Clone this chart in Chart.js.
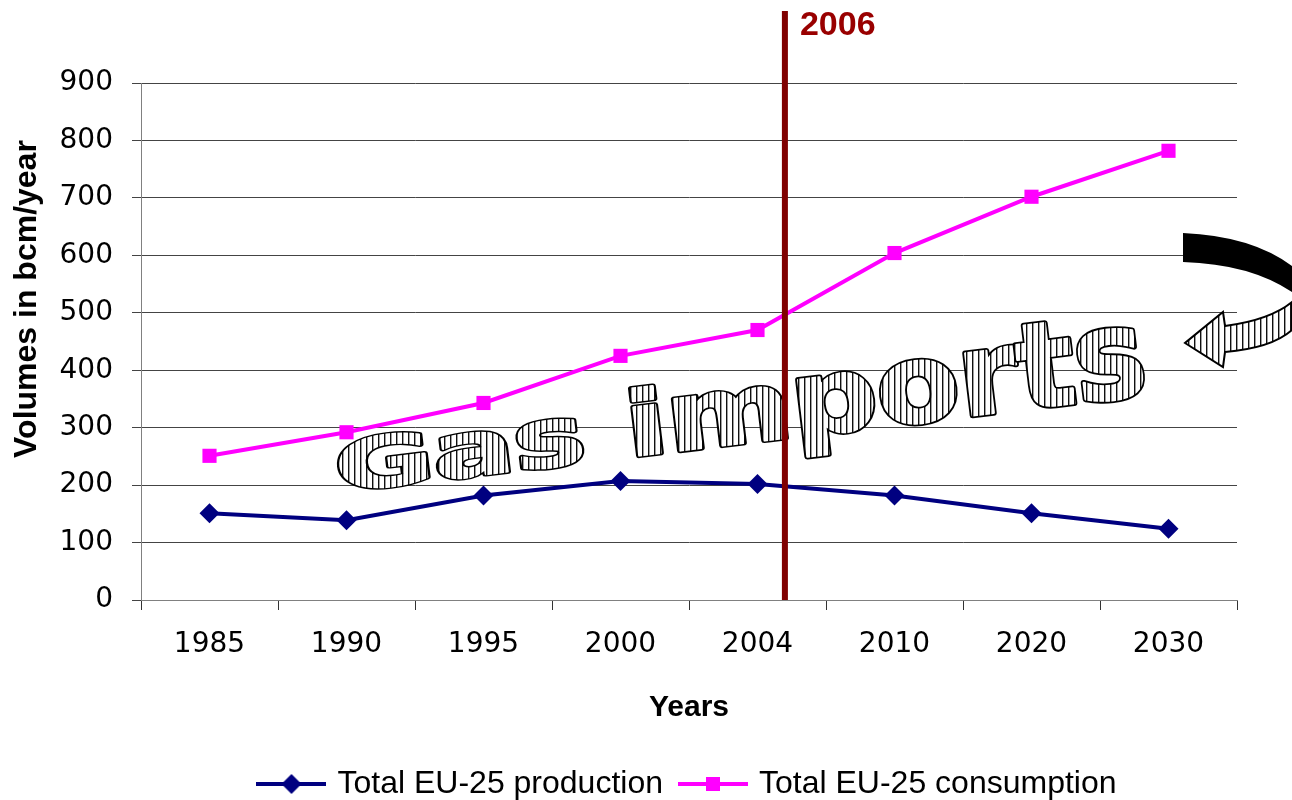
<!DOCTYPE html>
<html>
<head>
<meta charset="utf-8">
<script src="https://cdn.jsdelivr.net/npm/chart.js@4.4.1/dist/chart.umd.min.js"></script>
<style>
  html, body { margin: 0; padding: 0; background: #fff; }
</style>
</head>
<body>
<canvas id="gasChart" width="1292" height="800"></canvas>
<script>
const years = ['1985', '1990', '1995', '2000', '2004', '2010', '2020', '2030'];
const production = [151, 139, 182, 207, 202, 182, 151, 124];
const consumption = [251, 292, 343, 425, 470, 604, 702, 782];
const yMin = 0, yMax = 900, yStep = 100;

// 2006 marker sits a little after the 2004 category
const markerPos = 4.2;
const markerLabel = '2006';
const overlayText = 'Gas imports';

function stripePattern(ctx) {
    let c = document.createElement('canvas');
    c.width = 6; c.height = 6;
    let p = c.getContext('2d');
    p.fillStyle = '#fff';
    p.fillRect(0, 0, 6, 6);
    p.fillStyle = '#111';
    p.fillRect(0, 0, 1.4, 6);
    return ctx.createPattern(c, 'repeat');
}

function legendSample(color, shape) {
    let c = document.createElement('canvas');
    c.width = 70; c.height = 22;
    let g = c.getContext('2d');
    g.strokeStyle = color;
    g.lineWidth = 4;
    g.beginPath(); g.moveTo(0, 11); g.lineTo(70, 11); g.stroke();
    g.fillStyle = color;
    g.beginPath();
    if (shape === 'diamond') {
        g.moveTo(35, 1); g.lineTo(45, 11); g.lineTo(35, 21); g.lineTo(25, 11);
    } else {
        g.rect(28, 4, 14, 14);
    }
    g.fill();
    return c;
}
const samples = [legendSample('#000080', 'diamond'), legendSample('#ff00ff', 'square')];

function drawWordArt(ctx) {
    // slanted, growing "Gas imports" lettering
    const x0 = 338, y0 = 492, x1 = 1150, y1 = 394;
    const angle = Math.atan2(y1 - y0, x1 - x0);
    const len = Math.hypot(x1 - x0, y1 - y0);
    ctx.save();
    ctx.font = 'bold 80px "DejaVu Sans"';
    ctx.textBaseline = 'alphabetic';
    ctx.textAlign = 'left';
    ctx.lineJoin = 'round';
    let chars = overlayText.split('');
    let widths = chars.map(ch => ctx.measureText(ch).width);
    let total = widths.reduce((a, b) => a + b, 0);
    let sx = len / total;
    let pat = stripePattern(ctx);
    let d = 0;
    chars.forEach((ch, i) => {
        let t = (d + widths[i] / 2) / total;
        let sy = 0.82 + 0.75 * t;
        let px = x0 + Math.cos(angle) * d * sx;
        let py = y0 + Math.sin(angle) * d * sx;
        d += widths[i];
        if (ch === ' ') return;
        ctx.save();
        ctx.translate(px, py);
        ctx.rotate(angle);
        ctx.scale(sx, sy);
        let k = Math.sqrt(sx * sy);
        // heavier look: black outer stroke, then striped body on top
        ctx.strokeStyle = '#000';
        ctx.lineWidth = 6 / k;
        ctx.strokeText(ch, 0, 0);
        pat.setTransform(ctx.getTransform().inverse());
        ctx.fillStyle = pat;
        ctx.strokeStyle = pat;
        ctx.lineWidth = 2.4 / k;
        ctx.fillText(ch, 0, 0);
        ctx.strokeText(ch, 0, 0);
        ctx.restore();
    });
    ctx.restore();
}

function drawCurvedArrow(ctx) {
    ctx.save();
    ctx.beginPath();
    ctx.moveTo(1183, 233);
    ctx.quadraticCurveTo(1252, 236, 1292, 266);
    ctx.lineTo(1292, 292);
    ctx.quadraticCurveTo(1250, 264, 1183, 262);
    ctx.closePath();
    ctx.fillStyle = '#000';
    ctx.fill();

    let pat = stripePattern(ctx);
    ctx.beginPath();
    ctx.moveTo(1292, 302);
    ctx.quadraticCurveTo(1270, 320, 1225, 326);
    ctx.lineTo(1223, 312);
    ctx.lineTo(1185, 343);
    ctx.lineTo(1223, 367);
    ctx.lineTo(1225, 352);
    ctx.quadraticCurveTo(1272, 348, 1292, 330);
    ctx.closePath();
    ctx.fillStyle = pat;
    ctx.fill();
    ctx.lineWidth = 2;
    ctx.strokeStyle = '#000';
    ctx.lineJoin = 'miter';
    ctx.stroke();
    ctx.restore();
}

const decorations = {
    id: 'decorations',
    afterDatasetsDraw(chart) {
        let ctx = chart.ctx;
        let area = chart.chartArea;
        drawWordArt(ctx);
        drawCurvedArrow(ctx);

        // 2006 vertical line
        let x = chart.scales.x.getPixelForValue(markerPos);
        ctx.save();
        ctx.fillStyle = '#800000';
        ctx.fillRect(x - 3, area.top - 72, 6, area.bottom - area.top + 72);
        ctx.font = 'bold 34px "Liberation Sans"';
        ctx.fillStyle = '#990000';
        ctx.textBaseline = 'alphabetic';
        ctx.textAlign = 'left';
        ctx.fillText(markerLabel, x + 15, 35);
        ctx.restore();
    },
    afterDraw(chart) {
        let ctx = chart.ctx;
        ctx.save();
        ctx.translate(27, 299);
        ctx.rotate(-Math.PI / 2);
        ctx.font = 'bold 32px "Liberation Sans"';
        ctx.fillStyle = '#000';
        ctx.textAlign = 'center';
        ctx.textBaseline = 'middle';
        ctx.fillText('Volumes in bcm/year', 0, 0);
        ctx.restore();
    }
};

let ctx = document.getElementById('gasChart').getContext('2d');
let gasChart = new Chart(ctx, {
    type: 'line',
    data: {
        labels: years,
        datasets: [{
            label: 'Total EU-25 production',
            data: production,
            borderColor: '#000080',
            backgroundColor: '#000080',
            borderWidth: 4,
            pointStyle: 'rectRot',
            pointRadius: 10,
            pointBorderWidth: 0,
            tension: 0
        }, {
            label: 'Total EU-25 consumption',
            data: consumption,
            borderColor: '#ff00ff',
            backgroundColor: '#ff00ff',
            borderWidth: 4,
            pointStyle: 'rect',
            pointRadius: 10,
            pointBorderWidth: 0,
            tension: 0
        }]
    },
    options: {
        responsive: false,
        animation: false,
        layout: { padding: { top: 83, left: 0, right: 55, bottom: -10 } },
        plugins: {
            tooltip: { enabled: false },
            legend: {
                position: 'bottom',
                fullSize: false,
                labels: {
                    usePointStyle: true,
                    pointStyleWidth: 60,
                    padding: 20,
                    color: '#000',
                    font: { family: '"Liberation Sans"', size: 32 },
                    generateLabels: chart => chart.data.datasets.map((ds, i) => ({
                        text: ds.label,
                        pointStyle: samples[i],
                        fillStyle: ds.borderColor,
                        strokeStyle: ds.borderColor,
                        lineWidth: 0,
                        hidden: false,
                        datasetIndex: i,
                        fontColor: '#000'
                    }))
                }
            }
        },
        scales: {
            x: {
                offset: true,
                grid: {
                    offset: true,
                    drawOnChartArea: false,
                    drawTicks: true,
                    tickLength: 10,
                    color: '#333'
                },
                border: { color: '#808080', width: 1 },
                ticks: {
                    color: '#000',
                    padding: 18,
                    maxRotation: 0,
                    font: { family: '"DejaVu Sans"', size: 28 }
                },
                title: {
                    display: true,
                    text: 'Years',
                    color: '#000',
                    font: { family: '"Liberation Sans"', size: 30, weight: 'bold' },
                    padding: { top: 0, bottom: 22 }
                },
                afterFit: scale => { scale.height = 148; }
            },
            y: {
                min: yMin,
                max: yMax,
                grid: {
                    color: '#444',
                    lineWidth: 1,
                    drawTicks: true,
                    tickLength: 9
                },
                border: { color: '#808080', width: 1 },
                ticks: {
                    stepSize: yStep,
                    color: '#000',
                    padding: 19,
                    font: { family: '"DejaVu Sans"', size: 28 }
                },
                afterFit: scale => { scale.width = 141; }
            }
        }
    },
    plugins: [decorations]
});
</script>
</body>
</html>
